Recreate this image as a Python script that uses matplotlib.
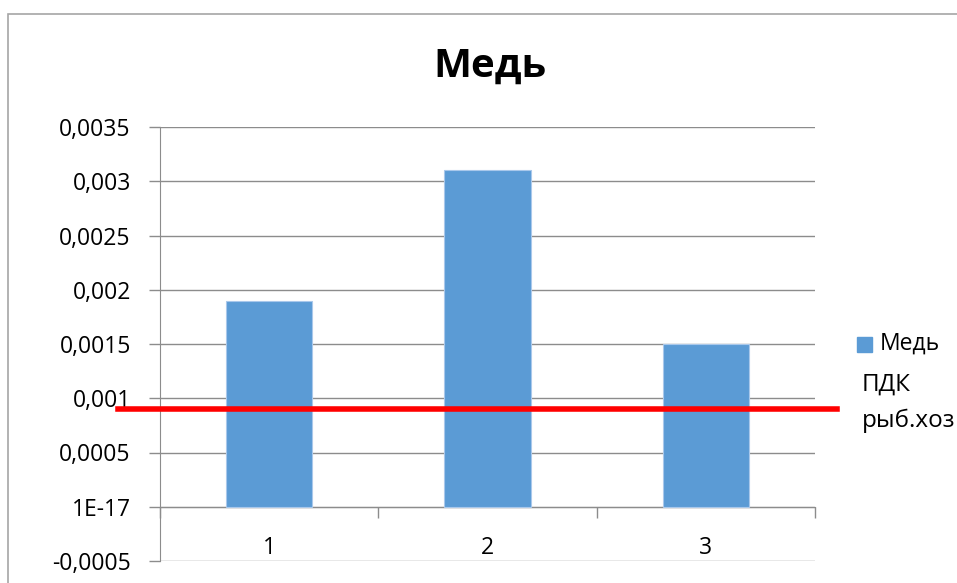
import matplotlib
matplotlib.use('Agg')
import matplotlib.pyplot as plt
from matplotlib.patches import Rectangle

plt.rcParams['font.family'] = ['Open Sans', 'DejaVu Sans']

# Данные
categories = ['1', '2', '3']
copper = [0.0019, 0.0031, 0.0015]
pdk = 0.0009  # ПДК рыб.хоз
y_ticks = [-0.0005, 0.0, 0.0005, 0.001, 0.0015, 0.002, 0.0025, 0.003, 0.0035]
y_tick_labels = ['-0,0005', '1E-17', '0,0005', '0,001', '0,0015',
                 '0,002', '0,0025', '0,003', '0,0035']

W, H = 957, 583
fig = plt.figure(figsize=(W / 100, H / 100), dpi=100)

# рамка диаграммы
fig.patches.append(Rectangle((8 / W, -0.1), 1.2, (H - 14) / H + 0.1,
                             transform=fig.transFigure, fill=False,
                             edgecolor='#a6a6a6', linewidth=1.2))

ax = fig.add_axes([160 / W, (H - 561) / H, (815 - 160) / W, (561 - 127) / H])

x = list(range(1, len(categories) + 1))
ax.bar(x, copper, width=0.395, color='#5b9bd5', edgecolor='#a9c8eb',
       linewidth=0.8, zorder=3, label='Медь')

ax.set_xlim(0.5, len(categories) + 0.5)
ax.set_ylim(y_ticks[0], y_ticks[-1])
ax.set_yticks(y_ticks)
ax.set_yticklabels(y_tick_labels)
ax.yaxis.grid(True, color='#8c8c8c', linewidth=1.0, zorder=0)

for s in ['top', 'right']:
    ax.spines[s].set_visible(False)
ax.spines['left'].set_color('#8c8c8c')
ax.spines['bottom'].set_color('#8c8c8c')
ax.spines['bottom'].set_position(('data', 0))

ax.tick_params(axis='y', length=8, width=1.0, color='#8c8c8c',
               labelsize=16.5, pad=13)
# деления оси X между категориями, подписи по центру
ax.set_xticks([i + 0.5 for i in range(len(categories) + 1)])
ax.set_xticklabels([])
ax.set_xticks(x, minor=True)
ax.set_xticklabels(categories, minor=True)
ax.tick_params(axis='x', which='major', length=8, width=1.0, color='#8c8c8c')
ax.tick_params(axis='x', which='minor', length=0, labelsize=16.5, pad=21)

# линия ПДК
ax.axhline(pdk, xmin=(118 - 160) / 655, xmax=(837 - 160) / 655,
           color='#ff0000', linewidth=4, clip_on=False, zorder=5)

fig.text(490 / W, 1 - 66 / H, 'Медь', ha='center', va='center',
         fontsize=29, fontweight='bold')

# легенда
fig.patches.append(Rectangle((857 / W, 1 - 352 / H), 15 / W, 15 / H,
                             transform=fig.transFigure, color='#5b9bd5'))
fig.text(880 / W, 1 - 344 / H, 'Медь', ha='left', va='center', fontsize=16.5)
fig.text(862 / W, 1 - 385 / H, 'ПДК', ha='left', va='center', fontsize=17.5)
fig.text(862 / W, 1 - 421 / H, 'рыб.хоз', ha='left', va='center', fontsize=17.5)

fig.savefig('out.png', dpi=100)
